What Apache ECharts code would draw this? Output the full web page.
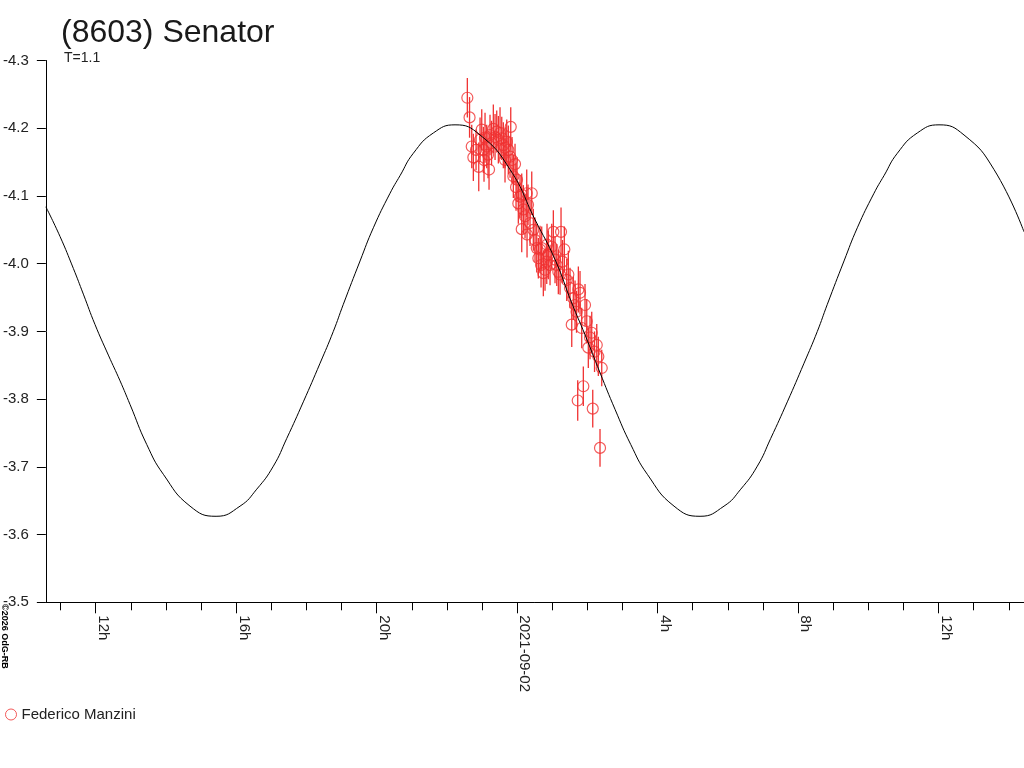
<!DOCTYPE html>
<html>
<head>
<meta charset="utf-8">
<script src="https://cdn.jsdelivr.net/npm/echarts@6/dist/echarts.min.js"></script>
<style>
html, body { margin: 0; padding: 0; background: #fff; }
#lc_chart { width: 1024px; height: 768px; }
</style>
</head>
<body>
<div id="lc_chart"></div>
<script>
var myChart = echarts.init(document.getElementById('lc_chart'));

// hours relative to 2021-09-02 00:00, magnitudes
var times = [-1.418, -1.355, -1.293, -1.247, -1.170, -1.093, -1.056, -1.008, -0.962, -0.914,
    -0.866, -0.829, -0.772, -0.729, -0.678, -0.629, -0.581, -0.535, -0.487, -0.438,
    -0.393, -0.345, -0.296, -0.251, -0.202, -0.182, -0.145, -0.108, -0.060, -0.031,
    -0.003, 0.034, 0.083, 0.131, 0.131, 0.177, 0.225, 0.273, 0.310, 0.367,
    0.416, 0.461, 0.510, 0.558, 0.604, 0.652, 0.700, 0.746, 0.794, 0.843,
    0.888, 0.937, 0.985, 1.031, 1.079, 1.128, 1.173, 1.222, 1.250, 1.293,
    1.344, 1.412, 1.458, 1.506, 1.555, 1.600, 1.649, 1.691, 1.725, 1.743,
    1.791, 1.839, 1.885, 1.933, 1.982, 2.027, 2.076, 2.124, 2.153, 2.204,
    2.267, 2.312, 2.360, 2.409, 0.681, 0.851, 0.282, -0.943, -0.800, -0.345];
var mags = [-4.245, -4.216, -4.173, -4.157, -4.168, -4.143, -4.183, -4.198, -4.168, -4.186,
    -4.173, -4.161, -4.190, -4.178, -4.199, -4.187, -4.195, -4.183, -4.193, -4.185,
    -4.175, -4.171, -4.180, -4.168, -4.158, -4.202, -4.153, -4.129, -4.147, -4.113,
    -4.124, -4.089, -4.099, -4.051, -4.102, -4.080, -4.070, -4.104, -4.087, -4.060,
    -4.104, -4.050, -4.035, -4.023, -4.008, -4.021, -4.023, -3.986, -3.991, -4.003,
    -4.013, -3.998, -4.025, -4.047, -4.006, -3.998, -3.988, -3.984, -4.047, -4.003,
    -4.021, -3.976, -3.984, -3.964, -3.910, -3.949, -3.939, -3.929, -3.798, -3.962,
    -3.957, -3.905, -3.819, -3.939, -3.915, -3.876, -3.891, -3.898, -3.786, -3.870,
    -3.880, -3.863, -3.728, -3.846, -3.998, -4.028, -4.043, -4.153, -4.139, -4.153];
var errs = [0.029, 0.030, 0.032, 0.035, 0.030, 0.036, 0.033, 0.030, 0.034, 0.037,
    0.032, 0.035, 0.030, 0.033, 0.036, 0.034, 0.031, 0.035, 0.038, 0.032,
    0.034, 0.030, 0.033, 0.036, 0.031, 0.029, 0.034, 0.032, 0.030, 0.035,
    0.033, 0.030, 0.032, 0.034, 0.031, 0.036, 0.033, 0.035, 0.030, 0.034,
    0.032, 0.031, 0.033, 0.036, 0.030, 0.035, 0.032, 0.034, 0.031, 0.033,
    0.036, 0.030, 0.034, 0.032, 0.035, 0.031, 0.033, 0.030, 0.036, 0.032,
    0.034, 0.031, 0.035, 0.030, 0.033, 0.032, 0.036, 0.031, 0.030, 0.034,
    0.032, 0.030, 0.029, 0.031, 0.033, 0.030, 0.032, 0.031, 0.028, 0.030,
    0.031, 0.029, 0.028, 0.027, 0.033, 0.031, 0.034, 0.032, 0.030, 0.033];

// fitted curve, sampled from the plot
var curveTimes = [-13.42, -13.015, -12.637, -12.352, -12.019, -11.64, -11.307, -11.022, -10.547, -10.074,
    -9.314, -8.573, -7.89, -7.415, -6.942, -6.56, -6.088, -5.612, -5.234, -4.949,
    -4.473, -4.094, -3.619, -3.334, -2.956, -2.386, -1.768, -1.056, -0.202, 0.51,
    1.08, 1.555, 1.933, 2.36, 2.787, 3.235, 3.707, 4.468, 5.208, 5.891,
    6.367, 6.839, 7.221, 7.694, 8.169, 8.548, 8.833, 9.308, 9.687, 10.162,
    10.447, 10.826, 11.395, 12.013, 12.725, 13.579, 14.433];
var curveMags = [-4.084, -4.040, -3.993, -3.955, -3.910, -3.865, -3.827, -3.792, -3.733, -3.689,
    -3.642, -3.627, -3.642, -3.667, -3.701, -3.742, -3.796, -3.853, -3.900, -3.940,
    -4.004, -4.053, -4.104, -4.130, -4.163, -4.193, -4.205, -4.190, -4.139, -4.065,
    -4.006, -3.942, -3.895, -3.839, -3.785, -3.733, -3.689, -3.642, -3.627, -3.642,
    -3.667, -3.701, -3.742, -3.796, -3.853, -3.900, -3.940, -4.004, -4.053, -4.104,
    -4.130, -4.163, -4.193, -4.205, -4.190, -4.139, -4.047];

var minorTicks = [-13, -12, -11, -10, -9, -8, -7, -6, -5, -4, -3, -2, -1, 0,
    1, 2, 3, 4, 5, 6, 7, 8, 9, 10, 11, 12, 13, 14];
var majorTicks = [-12, -8, -4, 0, 4, 8, 12];
var magTicks = [-4.3, -4.2, -4.1, -4.0, -3.9, -3.8, -3.7, -3.6, -3.5];

var red = '#f03232';
var font = 'Liberation Sans, Arial, sans-serif';

var points = times.map(function (t, i) { return [t, mags[i]]; });
var bars = times.map(function (t, i) { return [t, mags[i] - errs[i], mags[i] + errs[i]]; });
var curve = curveTimes.map(function (t, i) { return [t, curveMags[i]]; });

option = {
    backgroundColor: '#fff',
    animation: false,
    title: [
        {
            text: '(8603) Senator',
            left: 61,
            top: 17,
            padding: 0,
            textStyle: {color: '#1a1a1a', fontSize: 32, fontWeight: 'normal', fontFamily: font}
        },
        {
            text: 'T=1.1',
            left: 64,
            top: 51,
            padding: 0,
            textStyle: {color: '#222', fontSize: 14, fontWeight: 'normal', fontFamily: font}
        }
    ],
    grid: {left: 45.5, top: 60.5, right: 0, bottom: 165.7, containLabel: false},
    legend: {
        left: 5,
        top: 707,
        padding: 0,
        itemWidth: 11,
        itemHeight: 11,
        textStyle: {color: '#222', fontSize: 15, fontFamily: font},
        data: [{
            name: 'Federico Manzini',
            icon: 'circle',
            itemStyle: {color: 'rgba(0,0,0,0)', borderColor: red, borderWidth: 1}
        }]
    },
    xAxis: [
        {
            type: 'value',
            position: 'bottom',
            min: -13.42,
            max: 14.433,
            axisLine: {show: true, onZero: false, lineStyle: {color: '#000', width: 1}},
            axisTick: {show: true, length: 8, customValues: minorTicks, lineStyle: {color: '#000'}},
            axisLabel: {show: false},
            splitLine: {show: false}
        },
        {
            type: 'value',
            position: 'bottom',
            min: -13.42,
            max: 14.433,
            axisLine: {show: false, onZero: false},
            axisTick: {show: true, length: 11, customValues: majorTicks, lineStyle: {color: '#000'}},
            axisLabel: {
                show: true,
                customValues: majorTicks,
                rotate: -90,
                margin: 13,
                verticalAlign: 'bottom',
                color: '#222',
                fontSize: 15,
                fontFamily: font,
                formatter: function (v) {
                    if (v === 0) return '2021-09-02';
                    return (((v % 24) + 24) % 24) + 'h';
                }
            },
            splitLine: {show: false}
        }
    ],
    yAxis: {
        type: 'value',
        inverse: true,
        min: -4.3,
        max: -3.5,
        axisLine: {show: true, onZero: false, lineStyle: {color: '#000', width: 1}},
        axisTick: {show: true, length: 9, customValues: magTicks, lineStyle: {color: '#000'}},
        axisLabel: {
            customValues: magTicks,
            margin: 17,
            color: '#222',
            fontSize: 15,
            fontFamily: font,
            padding: [0, 0, 10, 0],
            formatter: function (v) { return v.toFixed(1); }
        },
        splitLine: {show: false}
    },
    series: [
        {
            name: 'errbars',
            type: 'custom',
            silent: true,
            data: bars,
            encode: {x: 0, y: [1, 2]},
            renderItem: function (params, api) {
                var p1 = api.coord([api.value(0), api.value(1)]);
                var p2 = api.coord([api.value(0), api.value(2)]);
                return {
                    type: 'line',
                    shape: {x1: p1[0], y1: p1[1], x2: p2[0], y2: p2[1]},
                    style: {stroke: red, lineWidth: 1.3}
                };
            },
            z: 2
        },
        {
            name: 'Federico Manzini',
            type: 'scatter',
            data: points,
            symbol: 'circle',
            symbolSize: 11,
            itemStyle: {color: 'rgba(0,0,0,0)', borderColor: red, borderWidth: 1.2},
            z: 3
        },
        {
            name: 'fit',
            type: 'line',
            data: curve,
            smooth: 0.5,
            showSymbol: false,
            lineStyle: {color: '#000', width: 1},
            z: 4
        }
    ],
    graphic: [{
        type: 'text',
        x: 9,
        y: 604,
        rotation: -Math.PI / 2,
        style: {text: '©2026 OdG-RB', fontSize: 9, fontWeight: 'bold', fill: '#000', fontFamily: font, verticalAlign: 'top'}
    }]
};
myChart.setOption(option);
</script>
</body>
</html>
